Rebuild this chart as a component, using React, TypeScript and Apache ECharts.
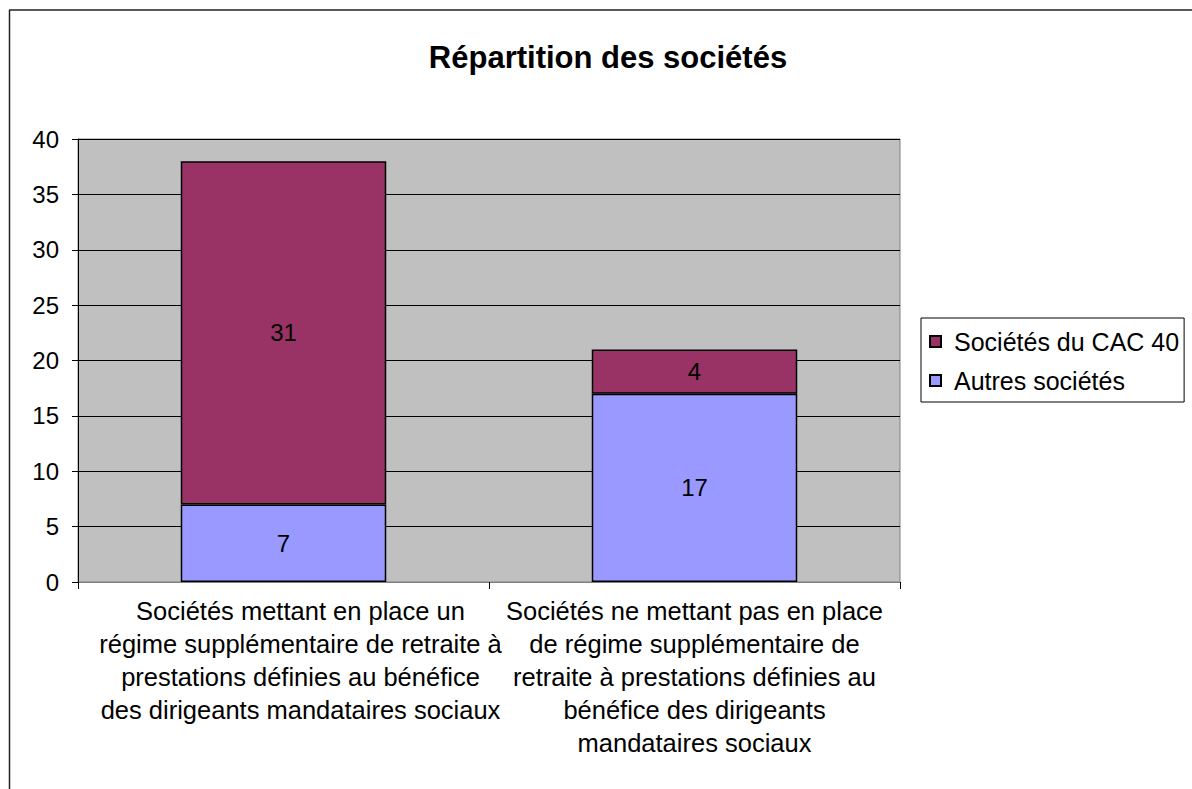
import React, { useEffect, useRef } from "react";
import * as echarts from "echarts";

const title = "Répartition des sociétés";
const categories = [
  "Sociétés mettant en place un\nrégime supplémentaire de retraite à\nprestations définies au bénéfice\ndes dirigeants mandataires sociaux",
  "Sociétés ne mettant pas en place\nde régime supplémentaire de\nretraite à prestations définies au\nbénéfice des dirigeants\nmandataires sociaux",
];
const autresName = "Autres sociétés";
const cacName = "Sociétés du CAC 40";
const autresValues = [7, 17];
const cacValues = [31, 4];
const yTicks = { min: 0, max: 40, interval: 5 };

const FONT = "Arial, 'Liberation Sans', sans-serif";
const labelOffsets = [34, 0];

export default function App() {
  const ref = useRef<HTMLDivElement>(null);
  useEffect(() => {
    document.body.style.margin = "0";
    const chart = echarts.init(ref.current!, null, { renderer: "svg" });
    const labelCfg = {
      show: true,
      position: "inside",
      color: "#000",
      fontSize: 24,
      fontFamily: FONT,
    };
    chart.setOption({
      animation: false,
      backgroundColor: "#fff",
      textStyle: { fontFamily: FONT },
      title: {
        text: title,
        left: 603,
        textAlign: "center",
        top: 37,
        textStyle: { fontSize: 31, fontWeight: "bold", color: "#000", fontFamily: FONT },
      },
      legend: {
        data: [cacName, autresName],
        orient: "vertical",
        left: 921,
        top: 318,
        padding: [11, 5, 9, 8],
        itemWidth: 11,
        itemHeight: 11,
        itemGap: 14,
        icon: "rect",
        borderColor: "#000",
        borderWidth: 1,
        backgroundColor: "#fff",
        textStyle: {
          fontSize: 25,
          color: "#000",
          fontFamily: FONT,
          lineHeight: 24,
          padding: [0, 0, 0, 8],
        },
      },
      grid: {
        left: 78,
        right: 292,
        top: 139,
        bottom: 207,
        show: true,
        backgroundColor: "#C0C0C0",
        borderColor: "#808080",
        borderWidth: 1,
        containLabel: false,
      },
      xAxis: {
        type: "category",
        data: categories.map((c, i) => ({
          value: c,
          textStyle: { padding: [0, 0, 0, labelOffsets[i]] },
        })),
        axisLine: { show: true, lineStyle: { color: "#808080", width: 1 } },
        axisTick: { show: true, alignWithLabel: false, length: 7, lineStyle: { color: "#000" } },
        axisLabel: {
          interval: 0,
          color: "#000",
          fontSize: 25.5,
          fontFamily: FONT,
          lineHeight: 33,
          margin: 12,
          align: "center",
        },
        splitLine: { show: false },
      },
      yAxis: {
        type: "value",
        min: yTicks.min,
        max: yTicks.max,
        interval: yTicks.interval,
        axisLine: { show: true, lineStyle: { color: "#000", width: 1 } },
        axisTick: { show: true, length: 6, lineStyle: { color: "#000" } },
        axisLabel: { color: "#000", fontSize: 24, fontFamily: FONT, margin: 19 },
        splitLine: { show: true, lineStyle: { color: "#000", width: 1 } },
      },
      series: [
        {
          name: autresName,
          type: "bar",
          stack: "total",
          data: autresValues,
          barWidth: "50%",
          itemStyle: { color: "#9999FF", borderColor: "#000", borderWidth: 1.5 },
          label: labelCfg,
        },
        {
          name: cacName,
          type: "bar",
          stack: "total",
          data: cacValues,
          barWidth: "50%",
          itemStyle: { color: "#993366", borderColor: "#000", borderWidth: 1.5 },
          label: labelCfg,
        },
      ],
      graphic: [
        {
          type: "line",
          shape: { x1: 9.5, y1: 10, x2: 9.5, y2: 789 },
          style: { stroke: "#222", lineWidth: 1.5 },
        },
        {
          type: "line",
          shape: { x1: 9, y1: 10, x2: 1192, y2: 10 },
          style: { stroke: "#222", lineWidth: 1.5 },
        },
      ],
    });
    return () => chart.dispose();
  }, []);
  return <div ref={ref} style={{ width: 1192, height: 789 }} />;
}
